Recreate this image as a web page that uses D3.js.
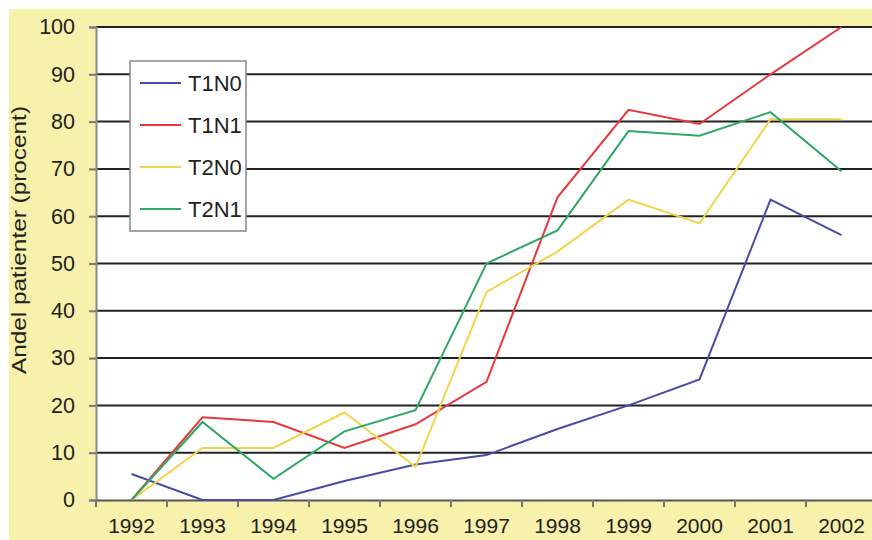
<!DOCTYPE html>
<html>
<head>
<meta charset="utf-8">
<script src="https://cdn.jsdelivr.net/npm/d3@7"></script>
<style>
  body { margin: 0; background: #fff; }
  text { font-family: "Liberation Sans", Arial, sans-serif; fill: #222; }
</style>
</head>
<body>
<div class="chart"></div>
<script>
// years on x axis
const years = ["1992", "1993", "1994", "1995", "1996", "1997", "1998", "1999", "2000", "2001", "2002"];
const yTicks = [0, 10, 20, 30, 40, 50, 60, 70, 80, 90, 100];

// values, percent
const t1n0 = [5.5, 0, 0, 4, 7.5, 9.5, 15, 20, 25.5, 63.5, 56];
const t1n1 = [0, 17.5, 16.5, 11, 16, 25, 64, 82.5, 79.5, 90, 100];
const t2n0 = [0, 11, 11, 18.5, 7, 44, 52.5, 63.5, 58.5, 80.5, 80.5];
const t2n1 = [0, 16.5, 4.5, 14.5, 19, 50, 57, 78, 77, 82, 69.5];

const seriesNames = ["T1N0", "T1N1", "T2N0", "T2N1"];
const seriesColors = ["#4a4aa8", "#e6383c", "#f2d44a", "#2fa866"];
const series = [t1n0, t1n1, t2n0, t2n1];

const width = 872;
const height = 540;
const margin = {top: 27, right: -5, bottom: 40, left: 96};

const svg = d3.select(".chart")
    .append("svg")
    .attr("width", width)
    .attr("height", height);

// yellow backdrop
svg.append("rect")
    .attr("x", 9)
    .attr("y", 9)
    .attr("width", width - 9)
    .attr("height", height - 9)
    .attr("fill", "#f7f1ab");

const x = d3.scaleBand()
    .domain(years)
    .range([margin.left, width - margin.right]);

const y = d3.scaleLinear()
    .domain([0, 100])
    .range([height - margin.bottom, margin.top]);

// white plot area
svg.append("rect")
    .attr("x", margin.left)
    .attr("y", y(100))
    .attr("width", width - margin.left)
    .attr("height", y(0) - y(100))
    .attr("fill", "#fff");

// grid lines
svg.append("g")
    .selectAll("line")
    .data(yTicks.filter(d => d > 0))
    .enter()
    .append("line")
    .attr("x1", margin.left)
    .attr("x2", width)
    .attr("y1", d => y(d))
    .attr("y2", d => y(d))
    .attr("stroke", "#222")
    .attr("stroke-width", 2);

// y axis
const yAxis = svg.append("g")
    .attr("transform", `translate(${margin.left}, 0)`)
    .call(d3.axisLeft(y).tickValues(yTicks).tickSize(7).tickPadding(14));
yAxis.select(".domain").attr("stroke", "#888").attr("stroke-width", 2);
yAxis.selectAll(".tick line").attr("stroke", "#777").attr("stroke-width", 2);
yAxis.selectAll("text").style("font-size", "21.5px").attr("fill", "#222");

// x axis, ticks sit between the years
const xAxis = svg.append("g")
    .attr("transform", `translate(0, ${y(0)})`)
    .call(d3.axisBottom(x).tickSize(0).tickPadding(18));
xAxis.select(".domain").attr("stroke", "#555").attr("stroke-width", 2);
xAxis.selectAll("text").style("font-size", "21px").attr("fill", "#222");
xAxis.selectAll(".sep")
    .data(years)
    .enter()
    .append("line")
    .attr("x1", d => x(d))
    .attr("x2", d => x(d))
    .attr("y1", 0)
    .attr("y2", 7)
    .attr("stroke", "#777")
    .attr("stroke-width", 2);

// axis title
svg.append("text")
    .attr("transform", `translate(26, 240) rotate(-90)`)
    .style("text-anchor", "middle")
    .style("font-size", "20px")
    .attr("textLength", 268)
    .attr("lengthAdjust", "spacingAndGlyphs")
    .text("Andel patienter (procent)");

// lines
const line = d3.line()
    .x((d, i) => x(years[i]) + x.bandwidth() / 2)
    .y(d => y(d));

svg.append("g")
    .selectAll("path")
    .data(series)
    .enter()
    .append("path")
    .attr("d", d => line(d))
    .attr("fill", "none")
    .attr("stroke", (d, i) => seriesColors[i])
    .attr("stroke-width", 2);

// legend
svg.append("rect")
    .attr("x", 130)
    .attr("y", 61)
    .attr("width", 116)
    .attr("height", 170)
    .attr("fill", "#fff")
    .attr("stroke", "#888")
    .attr("stroke-width", 1.5);

let legend = svg.selectAll(".legend")
    .data(seriesNames)
    .enter()
    .append("g")
    .attr("class", "legend")
    .attr("transform", (d, i) => `translate(0, ${83 + i * 42})`);

legend.append("line")
    .attr("x1", 140)
    .attr("x2", 181)
    .attr("stroke", (d, i) => seriesColors[i])
    .attr("stroke-width", 2);

legend.append("text")
    .attr("x", 188)
    .attr("dy", "0.36em")
    .style("font-size", "22px")
    .text(d => d);
</script>
</body>
</html>
